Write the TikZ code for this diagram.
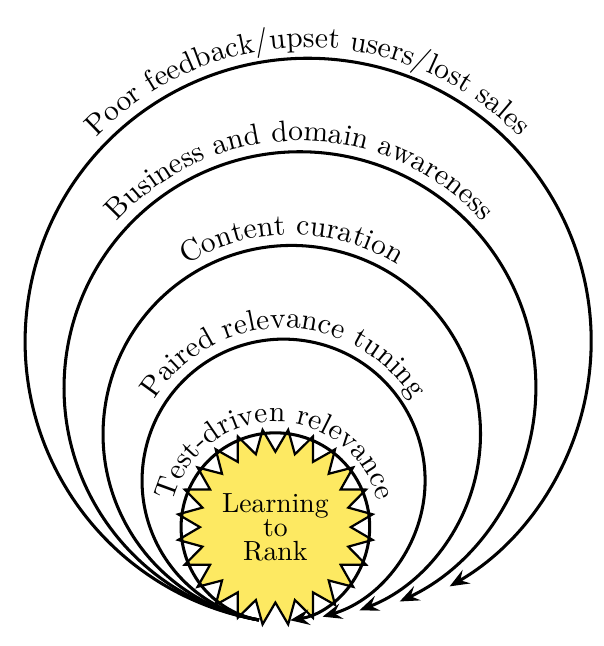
\documentclass[tikz,border=0pt]{standalone}
\usetikzlibrary{calc,shapes.geometric,decorations.text,arrows.meta}
\definecolor{ltryellow}{RGB}{253,233,98}
\newcommand\arcfont{\fontsize{10.7}{13}\selectfont}
\begin{document}
\begin{tikzpicture}[x=0.361pt,y=0.361pt,
  ring/.style={line width=1.1pt,-{Stealth[length=7pt,width=5.6pt,inset=2.6pt]}},
  ringtext/.style={decorate,decoration={text along path,text align=center,text={#1}}}]
\useasboundingbox (0,0) rectangle (604,646);
\coordinate (P) at (259,26);
\coordinate (c1) at ($(P)+(80:94.3)$);
\coordinate (c2) at ($(P)+(80:141.5)$);
\coordinate (c3) at ($(P)+(80:188.7)$);
\coordinate (c4) at ($(P)+(80:235.9)$);
\coordinate (c5) at ($(P)+(80:283.0)$);
% star
\node[star, star points=24, star point ratio=1.3, minimum size=70pt, inner sep=0pt,
      shape border rotate=7.5, draw, line width=0.8pt, fill=ltryellow, align=center,
      font=\fontsize{10}{8.7}\selectfont] (ltr) at (c1) {Learning\\to\\Rank};
% rings
\draw[ring] (P) arc[start angle=260,end angle=-81,radius=94.3];
\draw[ring] (P) arc[start angle=260,end angle=-74,radius=141.5];
\draw[ring] (P) arc[start angle=260,end angle=-69,radius=188.7];
\draw[ring] (P) arc[start angle=260,end angle=-65,radius=235.9];
\draw[ring] (P) arc[start angle=260,end angle=-60,radius=283.0];
% labels
\path[ringtext={|\arcfont|Test-driven relevance}] ($(c1)+(180:105.3)$) arc[start angle=180,end angle=0,radius=105.3];
\path[ringtext={|\arcfont|Paired relevance tuning}] ($(c2)+(180:152.5)$) arc[start angle=180,end angle=0,radius=152.5];
\path[ringtext={|\arcfont|Content curation}] ($(c3)+(180:199.7)$) arc[start angle=180,end angle=0,radius=199.7];
\path[ringtext={|\arcfont|Business and domain awareness}] ($(c4)+(180:246.9)$) arc[start angle=180,end angle=0,radius=246.9];
\path[ringtext={|\arcfont|Poor feedback/upset users/lost sales}] ($(c5)+(180:294)$) arc[start angle=180,end angle=0,radius=294];
\end{tikzpicture}
\end{document}
